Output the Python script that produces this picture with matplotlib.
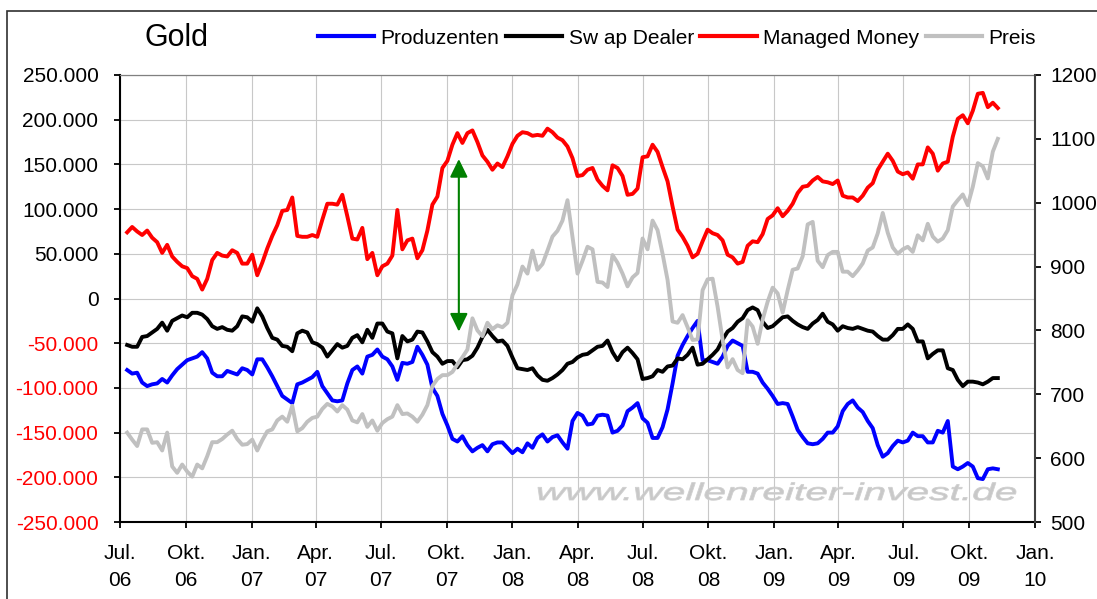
import matplotlib.pyplot as plt
from matplotlib.lines import Line2D
from matplotlib.patches import Rectangle, PathPatch
from matplotlib.textpath import TextPath
from matplotlib.font_manager import FontProperties
from matplotlib.transforms import Affine2D
import numpy as np
import pandas as pd

plt.rcParams['font.family'] = ['Liberation Sans', 'DejaVu Sans']

# weekly COT positions (in 1000 contracts), first report 11 Jul 2006
first_week = '2006-07-11'

prod_k = [-80, -84, -83, -94, -98, -96, -95, -90, -94, -86, -79, -74, -69, -67, -65, -60, -67, -83, -87, -87,
          -81, -83, -85, -78, -80, -85, -68, -68,
          -77, -87, -98, -109, -113, -117, -96, -94, -91, -88, -82, -98, -106, -114, -115, -114, -95, -80, -76,
          -84, -65, -63, -57, -65, -68, -76, -91, -72, -73,
          -71, -54, -63, -74, -100, -109, -129, -142, -157, -160, -154, -164, -171, -167, -164, -171, -163, -161,
          -161, -167, -173, -168, -172, -162, -167, -156, -152, -160, -155,
          -153, -161, -168, -137, -128, -131, -141, -140, -131, -130, -131, -150, -148, -142, -126, -122, -117,
          -134, -139, -156, -156, -144, -124, -95, -64, -52, -42, -33, -25,
          -69, -69, -71, -73, -65, -53, -47, -50, -53, -82, -82, -84, -94, -101, -109, -118, -117, -118, -132,
          -147, -155, -162, -163, -162, -157, -150, -150, -143, -126,
          -118, -114, -122, -127, -137, -145, -164, -177, -173, -165, -159, -161, -159, -150, -154, -154, -161,
          -161, -148, -150, -137, -188, -191, -188, -184, -188, -201, -202, -191,
          -190, -191]

swap_k = [-52, -54, -54, -43, -42, -38, -34, -27, -36, -25, -22, -19, -21, -16, -16, -18, -23, -31, -34, -32,
          -35, -36, -31, -20, -21, -26, -11, -20,
          -33, -44, -46, -53, -54, -59, -39, -36, -38, -49, -51, -55, -65, -58, -51, -55, -53, -44, -41, -49,
          -35, -44, -28, -28, -37, -39, -67, -42, -48,
          -46, -37, -38, -48, -60, -65, -73, -70, -70, -77, -69, -68, -64, -55, -43, -35, -42, -48, -47, -53,
          -66, -78, -79, -80, -78, -86, -91, -92, -89,
          -85, -80, -73, -71, -66, -63, -62, -58, -54, -53, -47, -60, -69, -60, -55, -61, -68, -90, -89, -87,
          -80, -82, -76, -75, -67, -68, -63, -55, -74,
          -73, -68, -63, -57, -46, -37, -33, -26, -22, -13, -10, -13, -26, -33, -31, -26, -21, -20, -25, -29,
          -32, -34, -28, -24, -17, -26, -29, -36, -31,
          -33, -34, -32, -34, -36, -37, -42, -46, -46, -41, -34, -34, -29, -34, -48, -48, -67, -62, -58, -58,
          -78, -80, -91, -98, -93, -93, -94, -96, -93,
          -89, -89]

mm_k = [74, 80, 75, 71, 76, 68, 63, 51, 60, 47, 41, 36, 34, 25, 22, 10, 22, 43, 51, 48, 47, 54, 51, 39, 39,
        49, 26, 40,
        56, 70, 82, 98, 99, 113, 70, 69, 69, 71, 69, 88, 106, 106, 105, 116, 92, 67, 66, 79, 44, 51, 26, 36,
        39, 48, 99, 55, 65,
        67, 45, 54, 76, 105, 114, 146, 154, 172, 185, 174, 185, 188, 175, 160, 153, 144, 151, 147, 159, 173,
        182, 186, 185, 182, 183, 182, 190, 186,
        180, 177, 170, 157, 137, 138, 144, 146, 133, 126, 121, 149, 146, 137, 116, 117, 123, 158, 159, 172,
        164, 147, 131, 103, 77, 69, 59, 46, 50,
        64, 77, 73, 71, 65, 49, 46, 39, 41, 59, 64, 63, 72, 89, 93, 101, 92, 98, 106, 118, 125, 126, 132, 136,
        131, 130, 128, 132, 115,
        113, 113, 109, 115, 124, 129, 144, 153, 162, 154, 142, 139, 141, 134, 150, 150, 169, 162, 143, 151,
        153, 181, 201, 205, 196, 210, 229, 230, 214,
        219, 213]

preis = [640, 629, 619, 645, 645, 624, 625, 612, 640, 587, 577, 590, 579, 571, 590, 584, 603, 625, 625, 630,
         637, 643, 630, 621, 622, 629, 612, 628,
         642, 645, 659, 665, 657, 682, 642, 647, 657, 663, 665, 677, 685, 681, 673, 683, 676, 659, 656, 669,
         649, 659, 643, 655, 661, 665, 683, 669, 670,
         665, 657, 668, 683, 713, 724, 730, 730, 735, 747, 758, 770, 819, 800, 791, 812, 802, 808, 805, 812,
         855, 872, 900, 889, 925, 895, 904, 925, 947,
         956, 972, 1004, 946, 889, 909, 931, 927, 876, 875, 868, 918, 906, 889, 869, 883, 890, 944, 927, 972,
         957, 920, 879, 814, 812, 824, 805, 785, 786,
         863, 880, 881, 837, 785, 742, 755, 738, 733, 816, 806, 779, 817, 845, 867, 858, 828, 863, 895, 897,
         916, 966, 970, 909, 899, 918, 923, 923, 892,
         892, 885, 894, 905, 925, 930, 952, 984, 953, 930, 920, 927, 931, 923, 949, 941, 967, 947, 939, 944,
         957, 994, 1004, 1013, 996, 1025, 1062, 1057, 1038,
         1080, 1100]

labels = ['Produzenten', 'Sw ap Dealer', 'Managed Money', 'Preis']
colors = ['#0000ff', '#000000', '#ff0000', '#c0c0c0']
month_names = {1: 'Jan.', 4: 'Apr.', 7: 'Jul.', 10: 'Okt.'}

weeks = pd.date_range(first_week, periods=len(prod_k), freq='7D')
quarters = pd.date_range('2006-07-01', '2010-01-01', freq='QS')
tick_labels = ['%s\n%02d' % (month_names[d.month], d.year % 100) for d in quarters]

W, H = 1097, 599
fig = plt.figure(figsize=(W / 100, H / 100), dpi=100)
ax = fig.add_axes([120 / W, 1 - 522 / H, (1035 - 120) / W, (522 - 75) / H])
ax2 = ax.twinx()

lw = 2.8
ax.plot(weeks, np.array(prod_k) * 1000, color=colors[0], lw=lw, zorder=3)
ax.plot(weeks, np.array(swap_k) * 1000, color=colors[1], lw=lw, zorder=3)
ax.plot(weeks, np.array(mm_k) * 1000, color=colors[2], lw=lw, zorder=3)
ax2.plot(weeks, preis, color=colors[3], lw=lw, zorder=3)

ax.set_xlim(quarters[0], quarters[-1])
ax.set_ylim(-250000, 250000)
ax2.set_ylim(500, 1200)

yt = np.arange(-250000, 250001, 50000)
ax.set_yticks(yt)
ax.set_yticklabels(['0' if v == 0 else '{:,}'.format(int(v)).replace(',', '.') for v in yt])
for t, v in zip(ax.get_yticklabels(), yt):
    t.set_color('#ff0000' if v < 0 else 'black')
ax2.set_yticks(np.arange(500, 1201, 100))

ax.set_xticks(quarters)
ax.set_xticklabels(tick_labels)
for t in ax.get_xticklabels():
    t.set_linespacing(1.56)

ax.grid(True, color='#c8c8c8', lw=0.8)
ax.set_axisbelow(True)

ax.tick_params(axis='y', direction='out', length=4.5, width=1.3, pad=11, labelsize=15)
ax.tick_params(axis='x', direction='out', length=4.5, width=1.3, pad=11, labelsize=15)
ax2.tick_params(axis='y', direction='out', length=4.5, width=1.3, pad=6.5, labelsize=15, colors='black')

for a in (ax, ax2):
    for s in a.spines.values():
        s.set_linewidth(1.5)
ax.spines['right'].set_visible(False)
ax.spines['top'].set_color('#808080')
ax.spines['top'].set_linewidth(0.9)
ax2.spines['left'].set_visible(False)
ax2.spines['top'].set_visible(False)
ax2.spines['bottom'].set_visible(False)
ax2.spines['right'].set_color('#404040')

# arrow marking the jump of managed money
arrow_day = pd.Timestamp('2007-10-18')
ax.annotate('', xy=(arrow_day, 156000), xytext=(arrow_day, -37000),
            arrowprops=dict(arrowstyle='<|-|>,head_length=0.55,head_width=0.27',
                            color='#008000', lw=1.5, shrinkA=0, shrinkB=0, mutation_scale=20),
            zorder=5)

# watermark: wide, stretched italic lettering
wm = TextPath((0, 0), 'www.wellenreiter-invest.de', size=24,
              prop=FontProperties(family='Liberation Sans', style='italic'))
ext = wm.get_extents()
sx = (1016 - 538) / ext.width
wm_tr = Affine2D().translate(-ext.x0, 0).scale(sx, 1.0).translate(538, H - 500)
ax.add_artist(PathPatch(wm, transform=wm_tr, facecolor='#c8c8c8', edgecolor='#d0d0d0',
                        lw=0.6, zorder=1))

fig.text(145 / W, 1 - 38 / H, 'Gold', ha='left', va='center', fontsize=22)

handles = [Line2D([], [], color=c, lw=3) for c in colors]
fig.legend(handles, labels, loc='center left', bbox_to_anchor=(318 / W, 1 - 38 / H), ncol=4,
           frameon=False, fontsize=15, handlelength=2.7, handletextpad=0.3, columnspacing=0.32,
           borderpad=0, borderaxespad=0)

fig.patches.append(Rectangle((7 / W, -0.1), 1.2, 1.1 - 11 / H, transform=fig.transFigure,
                             fill=False, edgecolor='#303030', lw=1.2))

fig.savefig('out.png', dpi=100)
